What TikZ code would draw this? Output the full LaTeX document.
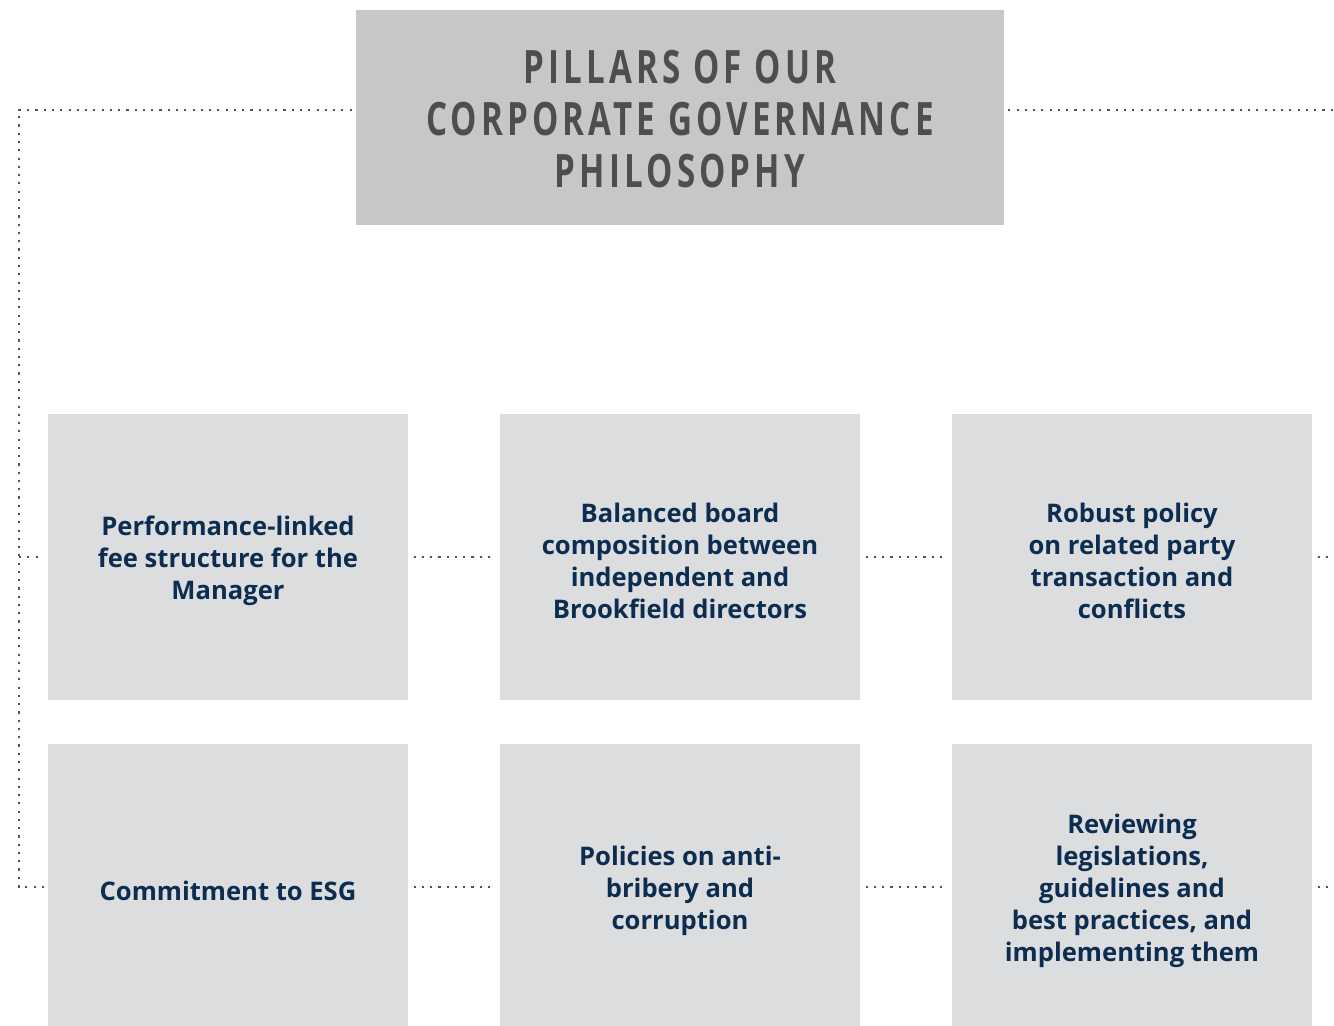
\documentclass[tikz,border=0pt]{standalone}
\usepackage{fontspec}
\setmainfont{Open Sans}
\newfontfamily\titlefont[FakeStretch=0.72,LetterSpace=9]{Open Sans}
\definecolor{titlegray}{HTML}{C6C7C9}
\definecolor{boxgray}{HTML}{DCDDDF}
\definecolor{titletext}{HTML}{4D4E50}
\definecolor{navy}{HTML}{0D2D50}
\definecolor{dotgray}{HTML}{555555}
\begin{document}
\begin{tikzpicture}[x=0.75pt,y=-0.75pt,
  pillar/.style={fill=boxgray, draw=none, minimum width=270pt, minimum height=214.5pt, inner sep=0pt},
  pilltext/.style={align=center, text=navy, font=\fontsize{19.2}{24}\selectfont\bfseries, inner sep=0pt},
  dotline/.style={draw=dotgray, line width=1.6pt, line cap=butt, dash pattern=on 1.6pt off 4.6pt}]
\useasboundingbox (0,0) rectangle (1334,1025);
\node[fill=titlegray, minimum width=486pt, minimum height=161.25pt, inner sep=0pt] (t) at (680,117.5) {};
\node[align=center, text=titletext, font=\titlefont\fontsize{34.5}{39}\selectfont\bfseries, inner sep=0pt]
  (tt) at (680,119) {PILLARS OF OUR\\CORPORATE GOVERNANCE\\PHILOSOPHY};
\node[pillar] (b1) at (228,557) {};
\node[pillar] (b2) at (680,557) {};
\node[pillar] (b3) at (1132,557) {};
\node[pillar] (b4) at (228,887) {};
\node[pillar] (b5) at (680,887) {};
\node[pillar] (b6) at (1132,887) {};
\node[pilltext] (x1) at (228,561) {Performance-linked\\fee structure for the\\Manager};
\node[pilltext] (x2) at (680,561) {Balanced board\\composition between\\independent and\\Brookfield directors};
\node[pilltext] (x3) at (1132,561) {Robust policy\\on related party\\transaction and\\conflicts};
\node[pilltext] (x4) at (228,891) {Commitment to ESG};
\node[pilltext] (x5) at (680,891) {Policies on anti-\\bribery and\\corruption};
\node[pilltext] (x6) at (1132,891) {Reviewing\\legislations,\\guidelines and\\best practices, and\\implementing them};
\coordinate (cl) at (19,110);
\coordinate (cr) at (1334,110);
\coordinate (r1) at (1334,557);
\coordinate (r2) at (1334,887);
\draw[dotline] ([xshift=-3pt]t.west |- cl) -- (cl) -- (cl |- b4.west) -- ([xshift=-3pt]b4.west);
\draw[dotline] (cl |- b1.west) -- ([xshift=-3pt]b1.west);
\draw[dotline] ([xshift=3pt]t.east |- cr) -- (cr);
\draw[dotline] ([xshift=4pt]b1.east) -- ([xshift=-3pt]b2.west);
\draw[dotline] ([xshift=4pt]b2.east) -- ([xshift=-3pt]b3.west);
\draw[dotline] ([xshift=4pt]b3.east) -- (r1);
\draw[dotline] ([xshift=4pt]b4.east) -- ([xshift=-3pt]b5.west);
\draw[dotline] ([xshift=4pt]b5.east) -- ([xshift=-3pt]b6.west);
\draw[dotline] ([xshift=4pt]b6.east) -- (r2);
\end{tikzpicture}
\end{document}
